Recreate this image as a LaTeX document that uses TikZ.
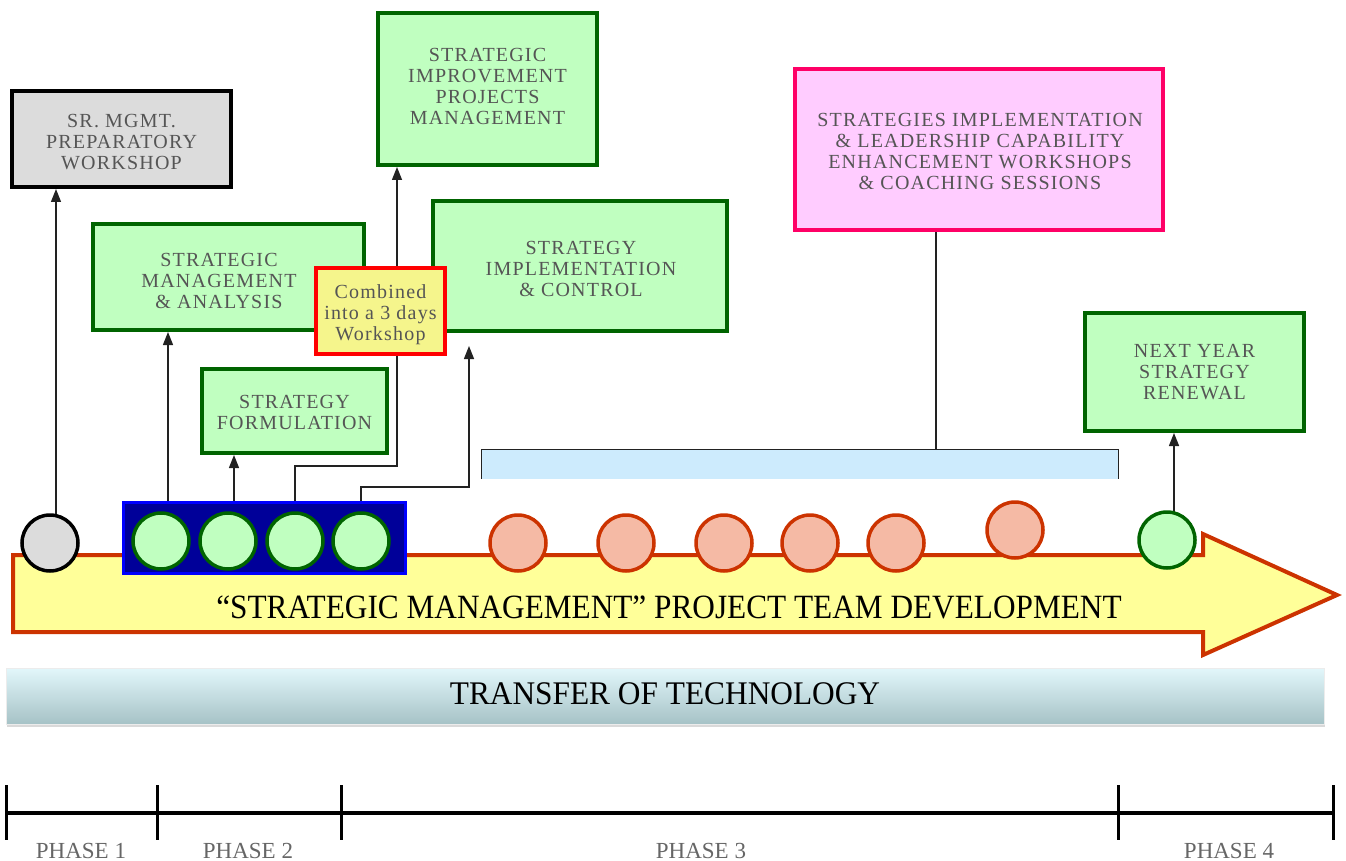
\documentclass[tikz,border=0pt]{standalone}
\usepackage{fontspec}
\usepackage{graphicx}
\setmainfont{Liberation Serif}
\usetikzlibrary{arrows.meta,calc,shadows}
\definecolor{txt}{HTML}{555555}
\definecolor{gB}{HTML}{006400}
\definecolor{gF}{HTML}{C0FFC0}
\definecolor{grayF}{HTML}{DCDCDC}
\definecolor{combF}{HTML}{F5F58C}
\definecolor{pinkB}{HTML}{FF0066}
\definecolor{pinkF}{HTML}{FFCCFF}
\definecolor{barF}{HTML}{CDEBFD}
\definecolor{arrB}{HTML}{CC3300}
\definecolor{arrF}{HTML}{FFFF99}
\definecolor{orF}{HTML}{F5BAA5}
\definecolor{bluF}{HTML}{000099}
\definecolor{bluB}{HTML}{0000FF}
\definecolor{lineC}{HTML}{222222}
\definecolor{totTop}{HTML}{E2F7FB}
\definecolor{totBot}{HTML}{A6C2C6}
\definecolor{phC}{HTML}{666666}
\newfontfamily\boxfont[LetterSpace=6]{Liberation Serif}
\begin{document}
\begin{tikzpicture}[x=1pt,y=-1pt,
  box/.style={draw, line width=4pt, inner sep=0pt, align=center, text=txt,
              font=\boxfont\fontsize{20}{21}\selectfont},
  btext/.style={box, draw=none, fill=none},
  gbox/.style={box, draw=gB, fill=gF},
  conn/.style={draw=lineC, line width=1.4pt, -{Triangle[length=13pt,width=10pt]}},
  dot/.style={circle, minimum size=56pt, line width=3.5pt, inner sep=0pt},
  gdot/.style={dot, draw=gB, fill=gF},
  odot/.style={dot, draw=arrB, fill=orF},
  phtick/.style={line width=3pt},
  phlabel/.style={text=phC, font=\fontsize{23}{23}\selectfont, inner sep=0pt}]
\useasboundingbox (0,0) rectangle (1346,861);

% boxes
\node[box, draw=black, fill=grayF, minimum width=219pt, minimum height=96pt] (sr) at (121.5,139) {};
\node[btext] (srt) at (121.5,142) {SR. MGMT.\\PREPARATORY\\WORKSHOP};
\node[gbox, minimum width=219pt, minimum height=152pt] (sipm) at (487.5,89) {};
\node[btext] (sipmt) at (487.5,86) {STRATEGIC\\IMPROVEMENT\\PROJECTS\\MANAGEMENT};
\node[gbox, minimum width=271pt, minimum height=106pt] (sma) at (228.5,277) {};
\node[btext] (smat) at (219,281) {STRATEGIC\\MANAGEMENT\\\& ANALYSIS};
\node[gbox, minimum width=294pt, minimum height=130pt] (sic) at (580,266) {};
\node[btext] (sict) at (581,269) {STRATEGY\\IMPLEMENTATION\\\& CONTROL};
\node[gbox, minimum width=185pt, minimum height=84pt] (sf) at (294.5,411) {};
\node[btext] (sft) at (294.5,412) {STRATEGY\\FORMULATION};
\node[box, draw=pinkB, fill=pinkF, minimum width=368pt, minimum height=161pt] (pink) at (979,149.5) {};
\node[btext] (pinkt) at (980,151.5) {STRATEGIES IMPLEMENTATION\\\& LEADERSHIP CAPABILITY\\ENHANCEMENT WORKSHOPS\\\& COACHING SESSIONS};
\node[gbox, minimum width=219pt, minimum height=118pt] (ny) at (1194.5,372) {};
\node[btext] (nyt) at (1194.5,372) {NEXT YEAR\\STRATEGY\\RENEWAL};

% light blue bracket bar
\node[fill=barF, minimum width=636pt, minimum height=29pt, inner sep=0pt] (bar) at (800,464.5) {};
\draw[lineC, line width=1.3pt] (bar.south west) -- (bar.north west) -- (bar.north east) -- (bar.south east);
\coordinate (pk) at ($(pink.south west)!0.384!(pink.south east)$);
\draw[lineC, line width=1.3pt] (pk) -- (pk |- bar.north);

% circle centres
\coordinate (g0p) at (50,543);
\coordinate (c1p) at (161,541);
\coordinate (c2p) at (228,541);
\coordinate (c3p) at (295,541);
\coordinate (c4p) at (361,541);
\coordinate (e1p) at (1167,540);

% connectors
\draw[conn] ([xshift=6pt]g0p) -- ([xshift=6pt]g0p |- sr.south);
\draw[conn] ([xshift=7pt]c1p) -- ([xshift=7pt]c1p |- sma.south);
\draw[conn] ([xshift=6pt]c2p) -- ([xshift=6pt]c2p |- sf.south);
\draw[conn] (c3p) -- ++(0,-75) -| ([xshift=-90.5pt]sipm.south);
\draw[conn] (c4p) -- ++(0,-54) -| ([xshift=-111pt,yshift=-13pt]sic.south);
\draw[conn] ([xshift=7pt]e1p) -- ([xshift=7pt]e1p |- ny.south);

% combined box on top
\node[box, draw=red, fill=combF, minimum width=129pt, minimum height=86pt] (comb) at (380.5,311) {};
\node[btext] (combt) at (380.5,315) {Combined\\into a 3 days\\Workshop};

% big arrow
\draw[line width=4pt, draw=arrB, fill=arrF, line join=miter]
  (13,555) -- (1203,555) -- (1203,534) -- (1337,595) -- (1203,655) -- (1203,632) -- (13,632) -- cycle;
\node[font=\fontsize{34}{34}\selectfont, inner sep=0pt] (arrt) at (669,607) {\scalebox{0.92}[1]{“STRATEGIC MANAGEMENT” PROJECT TEAM DEVELOPMENT}};

% blue group
\node[draw=bluB, fill=bluF, line width=3pt, minimum width=282pt, minimum height=71pt, inner sep=0pt] (blu) at (264.5,538) {};

% circles
\node[dot, draw=black, fill=grayF] (g0) at (g0p) {};
\node[gdot] (c1) at (c1p) {};
\node[gdot] (c2) at (c2p) {};
\node[gdot] (c3) at (c3p) {};
\node[gdot] (c4) at (c4p) {};
\node[odot] (o1) at (518,543) {};
\node[odot] (o2) at (626,543) {};
\node[odot] (o3) at (724,543) {};
\node[odot] (o4) at (810,543) {};
\node[odot] (o5) at (896,543) {};
\node[odot] (o6) at (1015,530) {};
\node[gdot] (e1) at (e1p) {};

% transfer of technology
\node[minimum width=1318pt, minimum height=56pt, inner sep=0pt, top color=totTop, bottom color=totBot,
      draw=white!85!gray, line width=0.8pt,
      drop shadow={shadow xshift=1pt, shadow yshift=-3pt, opacity=0.3},
      font=\fontsize{33}{33}\selectfont] (tot) at (665,696) {\raisebox{4pt}{\scalebox{0.95}[1]{TRANSFER OF TECHNOLOGY}}};

% phases
\draw[line width=4pt] (5,813) -- (1334,813);
\foreach \x in {6,157,341,1118,1333} \draw[phtick] (\x,785) -- (\x,840);
\node[phlabel] (p1) at (81,851) {PHASE 1};
\node[phlabel] (p2) at (248,851) {PHASE 2};
\node[phlabel] (p3) at (701,851) {PHASE 3};
\node[phlabel] (p4) at (1229,851) {PHASE 4};
\end{tikzpicture}
\end{document}
